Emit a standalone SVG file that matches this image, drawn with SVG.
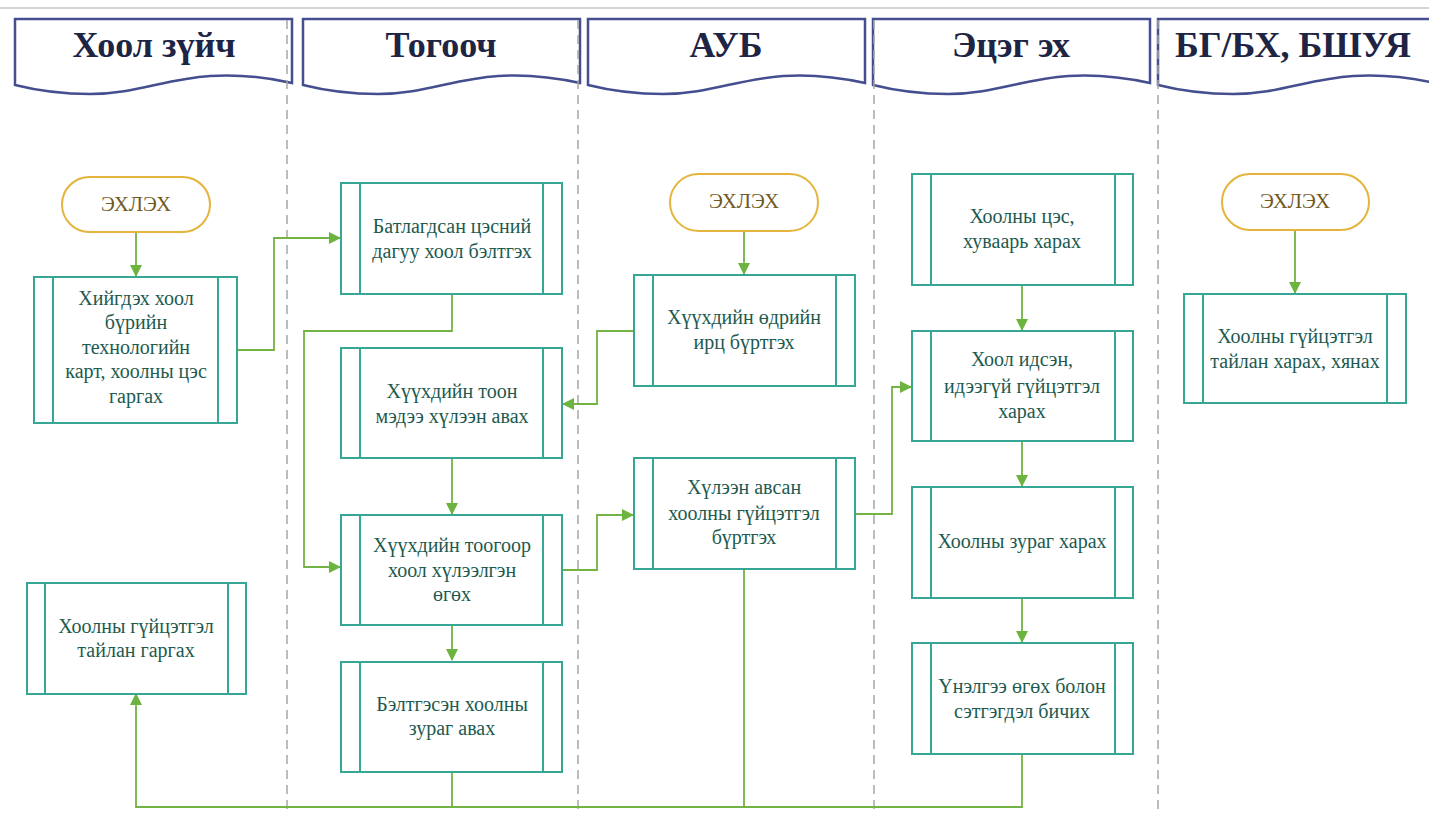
<svg xmlns="http://www.w3.org/2000/svg" width="1429" height="814" viewBox="0 0 1429 814">
<style>
.hdr{fill:#fff;stroke:#454E8E;stroke-width:2.5}
.htx{font-family:"Liberation Serif","DejaVu Serif",serif;font-weight:bold;font-size:36px;fill:#1E2444;text-anchor:middle}
.lane{stroke:#A6A6A6;stroke-width:1.5;stroke-dasharray:9,6;fill:none}
.proc{fill:#fff;stroke:#35A794;stroke-width:2}
.inner{stroke:#35A794;stroke-width:2}
.ntx{font-family:"Liberation Serif","DejaVu Serif",serif;font-size:20px;fill:#1D5A4F;text-anchor:middle}
.term{fill:#fff;stroke:#E5B43C;stroke-width:2}
.ttx{font-family:"Liberation Serif","DejaVu Serif",serif;font-size:21px;fill:#725A1F;text-anchor:middle}
.con{fill:none;stroke:#72B343;stroke-width:1.8}
</style>
<defs>
<marker id="ah" markerWidth="12" markerHeight="12" refX="11" refY="6" orient="auto" markerUnits="userSpaceOnUse">
<path d="M0,0 L12,6 L0,12 Z" fill="#6DB33F"/>
</marker>
<path id="banner" d="M0,0 H277 V64 C250,58 225,55 195,57 C150,60 120,75 75,75 C45,75 20,71 0,66 Z"/>
</defs>
<rect width="1429" height="814" fill="#fff"/>
<line x1="0" y1="8" x2="1429" y2="8" stroke="#D3D3D3" stroke-width="2"/>

<g id="headers">
<g id="h1"><use href="#banner" x="15" y="19" class="hdr"/><text x="154" y="57" class="htx">Хоол зүйч</text></g>
<g id="h2"><use href="#banner" x="303" y="19" class="hdr"/><text x="441" y="57" class="htx">Тогооч</text></g>
<g id="h3"><use href="#banner" x="588" y="19" class="hdr"/><text x="726" y="57" class="htx">АУБ</text></g>
<g id="h4"><use href="#banner" x="873" y="19" class="hdr"/><text x="1011" y="57" class="htx">Эцэг эх</text></g>
<g id="h5"><use href="#banner" x="1158" y="19" class="hdr"/><text x="1293" y="57" class="htx">БГ/БХ, БШУЯ</text></g>
</g>

<g id="lanes">
<line x1="287" y1="20" x2="287" y2="814" class="lane"/>
<line x1="578" y1="20" x2="578" y2="814" class="lane"/>
<line x1="874" y1="20" x2="874" y2="814" class="lane"/>
<line x1="1158" y1="20" x2="1158" y2="814" class="lane"/>
</g>

<g id="connectors">
<path class="con" d="M136,232 V276" marker-end="url(#ah)"/>
<path class="con" d="M237,350 H274 V238 H340" marker-end="url(#ah)"/>
<path class="con" d="M452,294 V331 H304 V567 H340" marker-end="url(#ah)"/>
<path class="con" d="M452,458 V514" marker-end="url(#ah)"/>
<path class="con" d="M452,625 V660" marker-end="url(#ah)"/>
<path class="con" d="M744,231 V274" marker-end="url(#ah)"/>
<path class="con" d="M634,331 H597 V404 H563" marker-end="url(#ah)"/>
<path class="con" d="M562,570 H597 V515 H633" marker-end="url(#ah)"/>
<path class="con" d="M855,514 H892 V387 H911" marker-end="url(#ah)"/>
<path class="con" d="M1022,285 V330" marker-end="url(#ah)"/>
<path class="con" d="M1022,441 V486" marker-end="url(#ah)"/>
<path class="con" d="M1022,598 V642" marker-end="url(#ah)"/>
<path class="con" d="M1022,754 V807 H136 V694" marker-end="url(#ah)"/>
<path class="con" d="M452,772 V807"/>
<path class="con" d="M744,569 V807"/>
<path class="con" d="M1295,230 V293" marker-end="url(#ah)"/>
</g>

<g id="start1"><rect x="62" y="177" width="148" height="55" rx="27.5" class="term"/><text x="136" y="211" class="ttx">ЭХЛЭХ</text></g>
<g id="start3"><rect x="670" y="174" width="148" height="57" rx="28.5" class="term"/><text x="744" y="208" class="ttx">ЭХЛЭХ</text></g>
<g id="start5"><rect x="1222" y="174" width="147" height="56" rx="28" class="term"/><text x="1295" y="208" class="ttx">ЭХЛЭХ</text></g>

<g id="n1"><rect x="34" y="277" width="203" height="146" class="proc"/><line x1="53" y1="277" x2="53" y2="423" class="inner"/><line x1="218" y1="277" x2="218" y2="423" class="inner"/>
<text class="ntx"><tspan x="136" y="305">Хийгдэх хоол</tspan><tspan x="136" y="329">бүрийн</tspan><tspan x="136" y="354">технологийн</tspan><tspan x="136" y="378">карт, хоолны цэс</tspan><tspan x="136" y="403">гаргах</tspan></text></g>

<g id="n6"><rect x="27" y="583" width="219" height="111" class="proc"/><line x1="45" y1="583" x2="45" y2="694" class="inner"/><line x1="228" y1="583" x2="228" y2="694" class="inner"/>
<text class="ntx"><tspan x="136" y="633">Хоолны гүйцэтгэл</tspan><tspan x="136" y="657">тайлан гаргах</tspan></text></g>

<g id="n2"><rect x="341" y="183" width="221" height="111" class="proc"/><line x1="360" y1="183" x2="360" y2="294" class="inner"/><line x1="543" y1="183" x2="543" y2="294" class="inner"/>
<text class="ntx"><tspan x="452" y="233">Батлагдсан цэсний</tspan><tspan x="452" y="258">дагуу хоол бэлтгэх</tspan></text></g>

<g id="n3"><rect x="341" y="348" width="221" height="110" class="proc"/><line x1="360" y1="348" x2="360" y2="458" class="inner"/><line x1="543" y1="348" x2="543" y2="458" class="inner"/>
<text class="ntx"><tspan x="452" y="398">Хүүхдийн тоон</tspan><tspan x="452" y="423">мэдээ хүлээн авах</tspan></text></g>

<g id="n4"><rect x="341" y="515" width="221" height="110" class="proc"/><line x1="360" y1="515" x2="360" y2="625" class="inner"/><line x1="543" y1="515" x2="543" y2="625" class="inner"/>
<text class="ntx"><tspan x="452" y="552">Хүүхдийн тоогоор</tspan><tspan x="452" y="577">хоол хүлээлгэн</tspan><tspan x="452" y="601">өгөх</tspan></text></g>

<g id="n5"><rect x="341" y="662" width="221" height="110" class="proc"/><line x1="360" y1="662" x2="360" y2="772" class="inner"/><line x1="543" y1="662" x2="543" y2="772" class="inner"/>
<text class="ntx"><tspan x="452" y="711">Бэлтгэсэн хоолны</tspan><tspan x="452" y="735">зураг авах</tspan></text></g>

<g id="a1"><rect x="634" y="275" width="221" height="111" class="proc"/><line x1="653" y1="275" x2="653" y2="386" class="inner"/><line x1="836" y1="275" x2="836" y2="386" class="inner"/>
<text class="ntx"><tspan x="744" y="324">Хүүхдийн өдрийн</tspan><tspan x="744" y="349">ирц бүртгэх</tspan></text></g>

<g id="a2"><rect x="634" y="458" width="221" height="111" class="proc"/><line x1="653" y1="458" x2="653" y2="569" class="inner"/><line x1="836" y1="458" x2="836" y2="569" class="inner"/>
<text class="ntx"><tspan x="744" y="494">Хүлээн авсан</tspan><tspan x="744" y="520">хоолны гүйцэтгэл</tspan><tspan x="744" y="544">бүртгэх</tspan></text></g>

<g id="p1"><rect x="912" y="174" width="221" height="111" class="proc"/><line x1="931" y1="174" x2="931" y2="285" class="inner"/><line x1="1115" y1="174" x2="1115" y2="285" class="inner"/>
<text class="ntx"><tspan x="1022" y="223">Хоолны цэс,</tspan><tspan x="1022" y="248">хуваарь харах</tspan></text></g>

<g id="p2"><rect x="912" y="331" width="221" height="110" class="proc"/><line x1="931" y1="331" x2="931" y2="441" class="inner"/><line x1="1115" y1="331" x2="1115" y2="441" class="inner"/>
<text class="ntx"><tspan x="1022" y="366">Хоол идсэн,</tspan><tspan x="1022" y="393">идээгүй гүйцэтгэл</tspan><tspan x="1022" y="418">харах</tspan></text></g>

<g id="p3"><rect x="912" y="487" width="221" height="111" class="proc"/><line x1="931" y1="487" x2="931" y2="598" class="inner"/><line x1="1115" y1="487" x2="1115" y2="598" class="inner"/>
<text class="ntx"><tspan x="1022" y="548">Хоолны зураг харах</tspan></text></g>

<g id="p4"><rect x="912" y="643" width="221" height="111" class="proc"/><line x1="931" y1="643" x2="931" y2="754" class="inner"/><line x1="1115" y1="643" x2="1115" y2="754" class="inner"/>
<text class="ntx"><tspan x="1022" y="693">Үнэлгээ өгөх болон</tspan><tspan x="1022" y="718">сэтгэгдэл бичих</tspan></text></g>

<g id="b1"><rect x="1184" y="294" width="222" height="109" class="proc"/><line x1="1203" y1="294" x2="1203" y2="403" class="inner"/><line x1="1387" y1="294" x2="1387" y2="403" class="inner"/>
<text class="ntx"><tspan x="1295" y="343">Хоолны гүйцэтгэл</tspan><tspan x="1295" y="368">тайлан харах, хянах</tspan></text></g>
</svg>
